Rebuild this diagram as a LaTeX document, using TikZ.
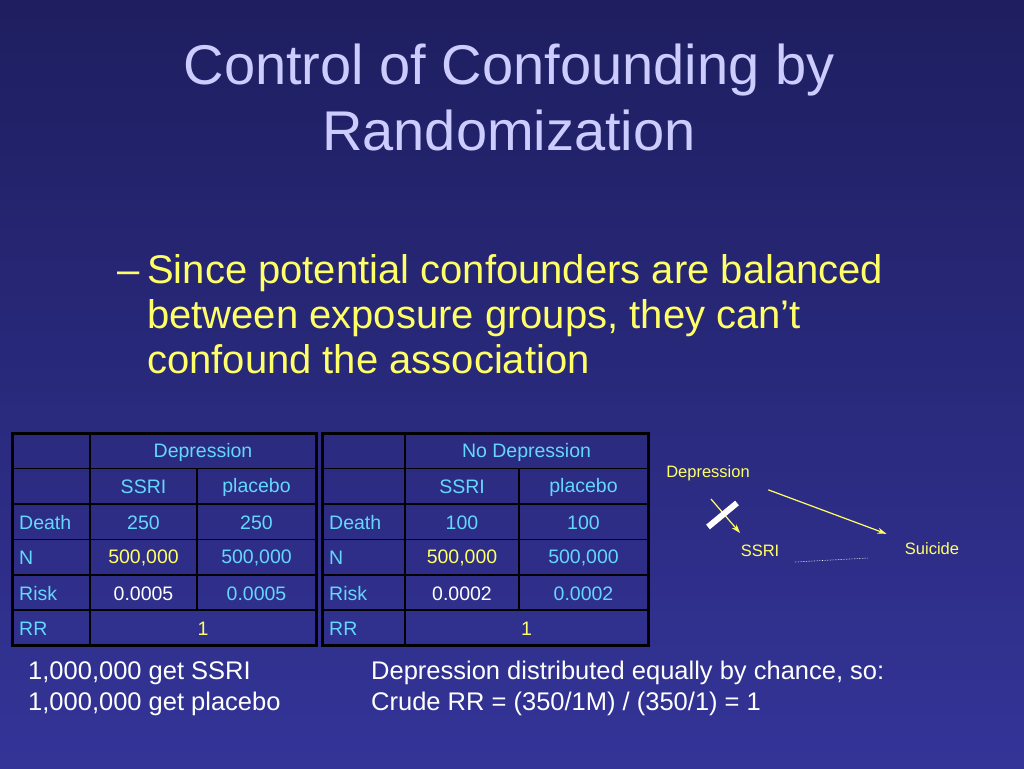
\documentclass[tikz,border=0pt]{standalone}
\usepackage{fontspec}
\setmainfont{Liberation Sans}
\usepackage{xcolor}
\definecolor{slidetopcolour}{RGB}{30,30,96}
\definecolor{slidebottomcolour}{RGB}{52,52,152}
\definecolor{titlecolour}{RGB}{204,204,255}
\definecolor{bulletcolour}{RGB}{255,255,102}
\definecolor{cellcolour}{RGB}{100,215,252}
\usetikzlibrary{arrows, arrows.meta, positioning}
\tikzstyle{titletext} = [text=titlecolour, align=center, font=\fontsize{56}{66}\selectfont]
\tikzstyle{bullettext} = [text=bulletcolour, align=left, inner sep=0pt, font=\fontsize{40}{45}\selectfont]
\tikzstyle{cell} = [text=cellcolour, inner sep=0pt, font=\fontsize{19.5}{21}\selectfont]
\tikzstyle{rowlabel} = [cell, anchor=west]
\tikzstyle{notetext} = [text=white, align=left, inner sep=0pt, font=\fontsize{25.5}{31}\selectfont]
\tikzstyle{dagtext} = [text=bulletcolour, font=\fontsize{16.5}{18}\selectfont]
\tikzstyle{outerline} = [line width=3pt, draw=black]
\tikzstyle{innerline} = [line width=1.8pt, draw=black]
\tikzstyle{arrow} = [line width=1.2pt, draw=bulletcolour, ->, >={Stealth[length=9pt, width=6pt]}]
\begin{document}
\begin{tikzpicture}[x=1pt, y=-1pt]
	\shade[top color=slidetopcolour, bottom color=slidebottomcolour] (0,0) rectangle (1024,768);
	\useasboundingbox (0,0) rectangle (1024,768);
	% title and bullet
	\node (title) [titletext, anchor=base] at (509,150) {Control of Confounding by\\Randomization};
	\node (dash) [bullettext, anchor=base west] at (117,283) {--};
	\node (point) [bullettext, anchor=base west] at (147,373) {Since potential confounders are balanced\\between exposure groups, they can't\\confound the association};
	% left table
	\draw [innerline] (12,468.5) -- (316,468.5) (12,504) -- (316,504) (12,539.5) -- (316,539.5) (12,575) -- (316,575) (12,610) -- (316,610);
	\draw [innerline] (90,433) -- (90,645) (197,468.5) -- (197,610);
	\draw [outerline] (12,433) rectangle (316,645);
	\node (ldep) [cell] at (203,452) {Depression};
	\node (lssri) [cell] at (143.5,487) {SSRI};
	\node (lplac) [cell] at (256.5,487) {placebo};
	\node (ldeath) [rowlabel] at (19,523) {Death};
	\node (ldeathA) [cell] at (143.5,523) {250};
	\node (ldeathB) [cell] at (256.5,523) {250};
	\node (ln) [rowlabel] at (19,558) {N};
	\node (lnA) [cell, text=bulletcolour] at (143.5,558) {500,000};
	\node (lnB) [cell] at (256.5,558) {500,000};
	\node (lrisk) [rowlabel] at (19,593.5) {Risk};
	\node (lriskA) [cell, text=white] at (143.5,593.5) {0.0005};
	\node (lriskB) [cell] at (256.5,593.5) {0.0005};
	\node (lrr) [rowlabel] at (19,628.5) {RR};
	\node (lrrA) [cell, text=bulletcolour] at (203,628.5) {1};
	% right table
	\draw [innerline] (322,468.5) -- (648,468.5) (322,504) -- (648,504) (322,539.5) -- (648,539.5) (322,575) -- (648,575) (322,610) -- (648,610);
	\draw [innerline] (405,433) -- (405,645) (519,468.5) -- (519,610);
	\draw [outerline] (322,433) rectangle (648,645);
	\node (rdep) [cell] at (526.5,452) {No Depression};
	\node (rssri) [cell] at (462,487) {SSRI};
	\node (rplac) [cell] at (583.5,487) {placebo};
	\node (rdeath) [rowlabel] at (329,523) {Death};
	\node (rdeathA) [cell] at (462,523) {100};
	\node (rdeathB) [cell] at (583.5,523) {100};
	\node (rn) [rowlabel] at (329,558) {N};
	\node (rnA) [cell, text=bulletcolour] at (462,558) {500,000};
	\node (rnB) [cell] at (583.5,558) {500,000};
	\node (rrisk) [rowlabel] at (329,593.5) {Risk};
	\node (rriskA) [cell, text=white] at (462,593.5) {0.0002};
	\node (rriskB) [cell] at (583.5,593.5) {0.0002};
	\node (rrr) [rowlabel] at (329,628.5) {RR};
	\node (rrrA) [cell, text=bulletcolour] at (526.5,628.5) {1};
	% causal diagram
	\node (dep) [dagtext] at (708,473) {Depression};
	\node (ssri) [dagtext] at (760,551) {SSRI};
	\node (sui) [dagtext] at (932,549) {Suicide};
	\coordinate (depfoot) at (711,499);
	\coordinate (ssrihead) at (740,533);
	\draw [arrow] (depfoot) -- (ssrihead);
	\draw [arrow, shorten <=16pt, shorten >=16pt] (dep.south east) -- (sui.north west);
	\draw [white, line width=6pt] (708,527) -- (737,503);
	\draw [white, densely dotted, line width=0.6pt] (795,562) -- (868,558);
	% notes
	\node (ssricount) [notetext, anchor=base west] at (28,710) {1,000,000 get SSRI\\1,000,000 get placebo};
	\node (crude) [notetext, anchor=base west] at (371,710) {Depression distributed equally by chance, so:\\Crude RR = (350/1M) / (350/1) = 1};
\end{tikzpicture}
\end{document}
